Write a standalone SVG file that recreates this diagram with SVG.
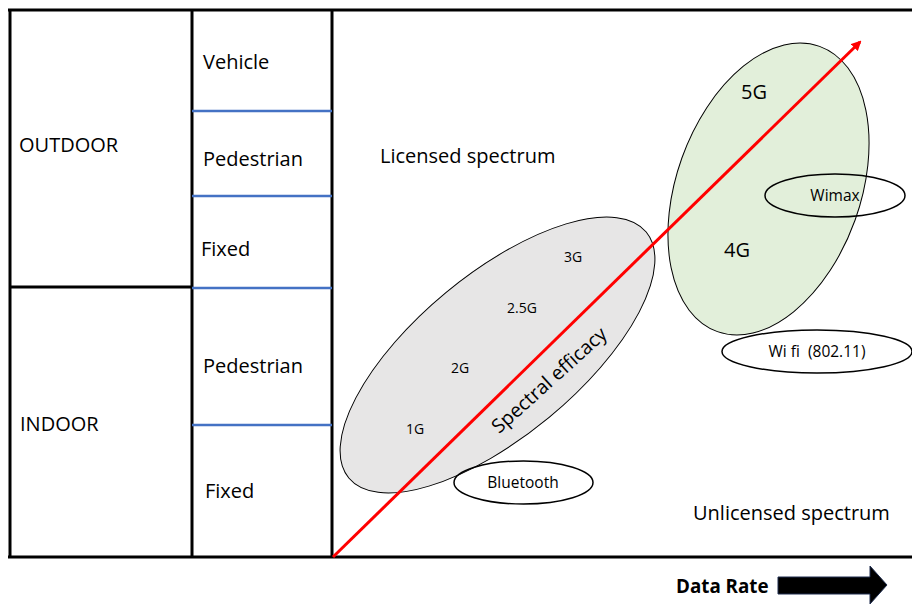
<svg xmlns="http://www.w3.org/2000/svg" width="912" height="604" viewBox="0 0 912 604">
<style>
text{font-family:"Open Sans","Liberation Sans",sans-serif;fill:#000;white-space:pre}
.lbl{font-size:20px}
.sm{font-size:14px}
.md{font-size:15.5px}
.grid{stroke:#000;stroke-width:3;fill:none}
.blue{stroke:#4472C4;stroke-width:2.5}
.oval{fill:none;stroke:#000;stroke-width:1.5}
</style>
<defs>
<marker id="ah" markerWidth="10" markerHeight="10" refX="8" refY="5" orient="auto" markerUnits="userSpaceOnUse" viewBox="0 0 10 10">
<path d="M0,0 L10,5 L0,10 z" fill="#FF0000"/>
</marker>
</defs>
<rect width="912" height="604" fill="#fff"/>
<g id="table">
<line class="grid" x1="8" y1="10" x2="912" y2="10"/>
<line class="grid" x1="8" y1="557" x2="912" y2="557"/>
<line class="grid" x1="10" y1="10" x2="10" y2="557"/>
<line class="grid" x1="192" y1="10" x2="192" y2="557"/>
<line class="grid" x1="332" y1="10" x2="332" y2="557"/>
<line class="grid" x1="10" y1="287" x2="192" y2="287"/>
<line class="blue" x1="192" y1="111" x2="332" y2="111"/>
<line class="blue" x1="192" y1="196" x2="332" y2="196"/>
<line class="blue" x1="192" y1="288" x2="332" y2="288"/>
<line class="blue" x1="192" y1="425" x2="332" y2="425"/>
</g>
<g id="outdoor"><text class="lbl" x="19" y="152">OUTDOOR</text></g>
<g id="indoor"><text class="lbl" x="20" y="431">INDOOR</text></g>
<g id="vehicle"><text class="lbl" x="203" y="69">Vehicle</text></g>
<g id="out-pedestrian"><text class="lbl" x="203" y="166">Pedestrian</text></g>
<g id="out-fixed"><text class="lbl" x="201" y="256">Fixed</text></g>
<g id="in-pedestrian"><text class="lbl" x="203" y="373">Pedestrian</text></g>
<g id="in-fixed"><text class="lbl" x="205" y="498">Fixed</text></g>
<g id="licensed"><text class="lbl" x="380" y="163">Licensed spectrum</text></g>
<g id="unlicensed"><text class="lbl" x="693" y="520">Unlicensed spectrum</text></g>
<g id="gen-legacy">
<ellipse cx="497.5" cy="355" rx="193" ry="81" transform="rotate(-39.6 497.5 355)" fill="#E7E6E6" stroke="#000" stroke-width="1"/>
</g>
<g id="gen-new">
<ellipse cx="768.5" cy="189" rx="92" ry="151.5" transform="rotate(19.7 768.5 189)" fill="#E2EFDA" stroke="#000" stroke-width="1"/>
</g>
<g id="connectors">
<line x1="333" y1="557" x2="860" y2="42" stroke="#FF0000" stroke-width="3" marker-end="url(#ah)"/>
</g>
<g id="gen-legacy-labels">
<text class="sm" x="573" y="262" text-anchor="middle">3G</text>
<text class="sm" x="522" y="313" text-anchor="middle">2.5G</text>
<text class="sm" x="460" y="373" text-anchor="middle">2G</text>
<text class="sm" x="415" y="434" text-anchor="middle">1G</text>
<text x="549" y="387" font-size="19.5" text-anchor="middle" transform="rotate(-42 549 380)">Spectral efficacy</text>
</g>
<g id="gen-new-labels">
<text x="754" y="99" font-size="20" text-anchor="middle">5G</text>
<text x="737" y="257" font-size="20" text-anchor="middle">4G</text>
</g>
<g id="bluetooth">
<ellipse class="oval" cx="523.5" cy="482.5" rx="69.5" ry="21.5"/>
<text class="md" x="523" y="488" text-anchor="middle">Bluetooth</text>
</g>
<g id="wimax">
<ellipse class="oval" cx="835" cy="195.5" rx="70" ry="21.5"/>
<text class="md" x="835" y="201" text-anchor="middle">Wimax</text>
</g>
<g id="wifi">
<ellipse class="oval" cx="817" cy="351.5" rx="95" ry="21.5"/>
<text class="md" x="817" y="357" text-anchor="middle" xml:space="preserve">Wi fi  (802.11)</text>
</g>
<g id="data-rate">
<text x="676" y="593" font-size="18.8" font-weight="bold">Data Rate</text>
<path d="M778,577 L870,577 L870,566 L887,585 L870,604 L870,594 L778,594 z" fill="#000" stroke="#1F2D4F" stroke-width="1"/>
</g>
</svg>
